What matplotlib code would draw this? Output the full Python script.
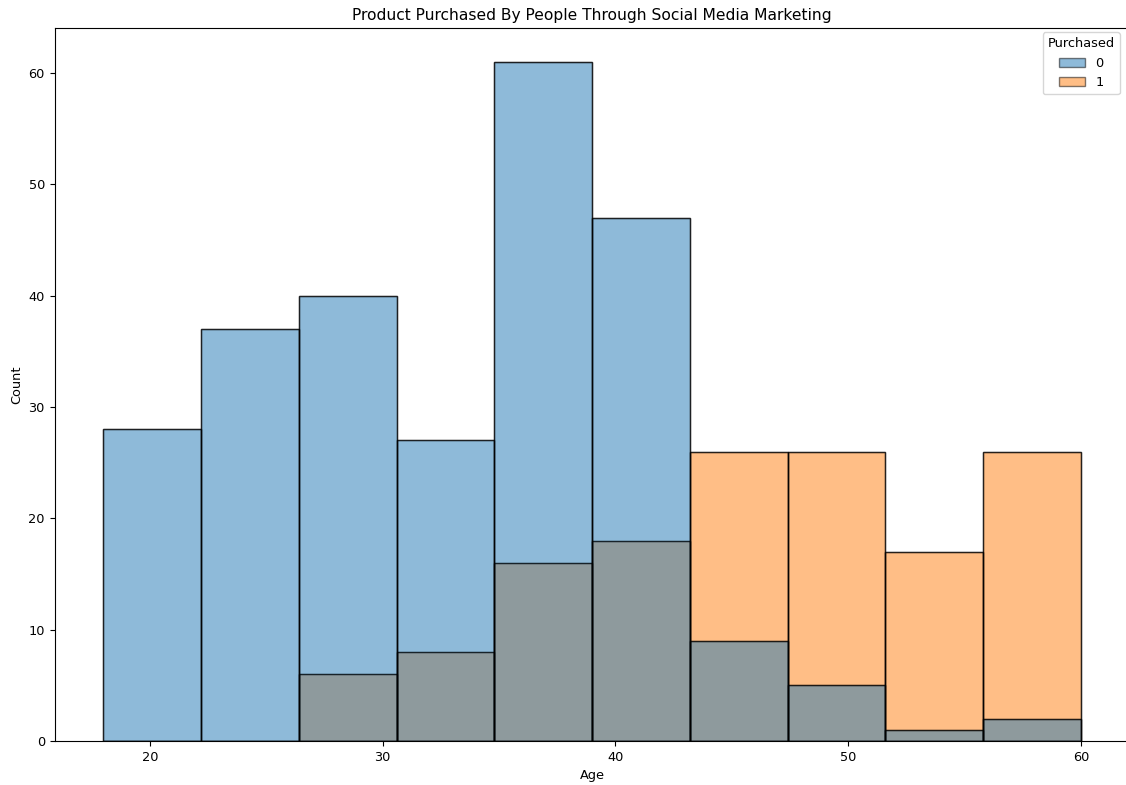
import numpy as np
import matplotlib
matplotlib.use("Agg")
import matplotlib.pyplot as plt
from matplotlib.patches import Patch

# Data
age_min, age_max, n_bins = 18, 60, 10
count_not_purchased = [28, 37, 40, 27, 61, 47, 9, 5, 1, 2]
count_purchased = [0, 0, 6, 8, 16, 18, 26, 26, 17, 26]
hue_labels = ["0", "1"]
title = "Product Purchased By People Through Social Media Marketing"

plt.rcParams["font.size"] = 9.3

edges = np.linspace(age_min, age_max, n_bins + 1)
width = edges[1] - edges[0]

W, H = 1126, 785
fig = plt.figure(figsize=(W / 100, H / 100), dpi=100)
left, right, top, bottom = 54.6, 1129.7, 28, 741
ax = fig.add_axes([left / W, 1 - bottom / H, (right - left) / W, (bottom - top) / H])

blue = "#1f77b4"
orange = "#ff7f0e"
# orange layer first, blue on top (seaborn layer order)
ax.bar(edges[:-1], count_purchased, width=width, align="edge", color=orange,
       alpha=0.5, edgecolor="black", linewidth=1)
ax.bar(edges[:-1], count_not_purchased, width=width, align="edge", color=blue,
       alpha=0.5, edgecolor="black", linewidth=1)
for vals in (count_purchased, count_not_purchased):
    ax.bar(edges[:-1], vals, width=width, align="edge", fill=False,
           edgecolor=(0, 0, 0, 0.7), linewidth=1)

ax.set_xlim(age_min - 0.05 * (age_max - age_min), age_max + 0.05 * (age_max - age_min))
ax.set_ylim(0, max(count_not_purchased) * 1.05)
ax.set_xlabel("Age")
ax.set_ylabel("Count")
ax.set_title(title)

handles = [Patch(facecolor=blue, alpha=0.5, edgecolor="black"),
           Patch(facecolor=orange, alpha=0.5, edgecolor="black")]
ax.legend(handles, hue_labels, title="Purchased", loc="upper right",
          bbox_to_anchor=(1120 / W, 1 - 32 / H), bbox_transform=fig.transFigure,
          borderaxespad=0)

fig.savefig("out.png", dpi=100)
